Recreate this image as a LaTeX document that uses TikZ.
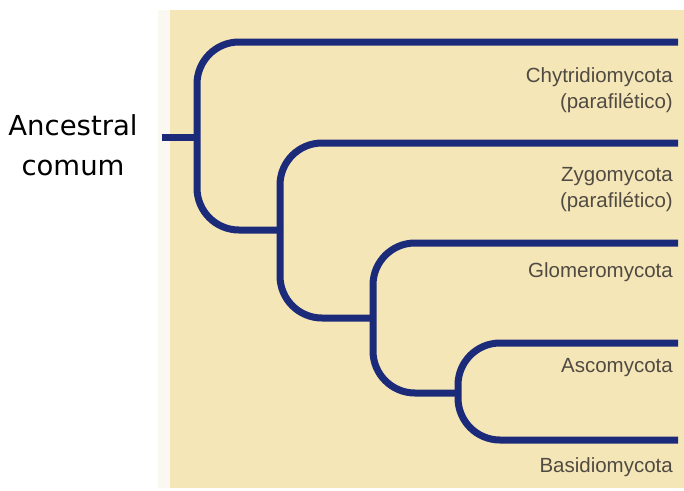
\documentclass[tikz,border=0pt]{standalone}
\usepackage{fontspec}
\setmainfont{Liberation Sans}
\newfontfamily\ancfont{DejaVu Sans}
\definecolor{beige}{RGB}{245,230,184}
\definecolor{pale}{RGB}{250,248,240}
\definecolor{navy}{RGB}{28,42,122}
\definecolor{labgray}{RGB}{80,75,66}
\begin{document}
\begin{tikzpicture}[x=1pt,y=-1pt,
  branch/.style={draw=navy,line width=7pt,rounded corners=42pt},
  taxon/.style={anchor=east,text=labgray,font=\fontsize{20.5}{26}\selectfont,align=right,inner sep=0pt},
  anclabel/.style={font=\ancfont\fontsize{27.5}{40}\selectfont,align=center,inner sep=0pt}]
\useasboundingbox (0,0) rectangle (684,490);
\fill[white] (0,0) rectangle (684,490);
\fill[pale] (158,10) rectangle (170,488);
\fill[beige] (170,10) rectangle (684,488);
\coordinate (root) at (162,137);
\coordinate (n1) at (197,137);
\coordinate (n2) at (280,230);
\coordinate (n3) at (373,318);
\coordinate (n4) at (458,393);
\coordinate (t1) at (678,42);
\coordinate (t2) at (678,143);
\coordinate (t3) at (678,243);
\coordinate (t4) at (678,343);
\coordinate (t5) at (678,440);
\draw[branch] (root) -- (n1);
\draw[branch] (n1) -- (n1 |- t1) -- (t1);
\draw[branch] (n1) -- (n1 |- n2) -- (n2);
\draw[branch] (n2) -- (n2 |- t2) -- (t2);
\draw[branch] (n2) -- (n2 |- n3) -- (n3);
\draw[branch] (n3) -- (n3 |- t3) -- (t3);
\draw[branch] (n3) -- (n3 |- n4) -- (n4);
\draw[branch] (n4) -- (n4 |- t4) -- (t4);
\draw[branch] (n4) -- (n4 |- t5) -- (t5);
\node[taxon] (chy) at (673,90) {Chytridiomycota\\(parafilético)};
\node[taxon] (zyg) at (673,190) {Zygomycota\\(parafilético)};
\node[taxon] (glo) at (673,272) {Glomeromycota};
\node[taxon] (asc) at (673,368) {Ascomycota};
\node[taxon] (bas) at (673,467) {Basidiomycota};
\node[anclabel] (anc) at (73,145) {Ancestral\\comum};
\end{tikzpicture}
\end{document}
